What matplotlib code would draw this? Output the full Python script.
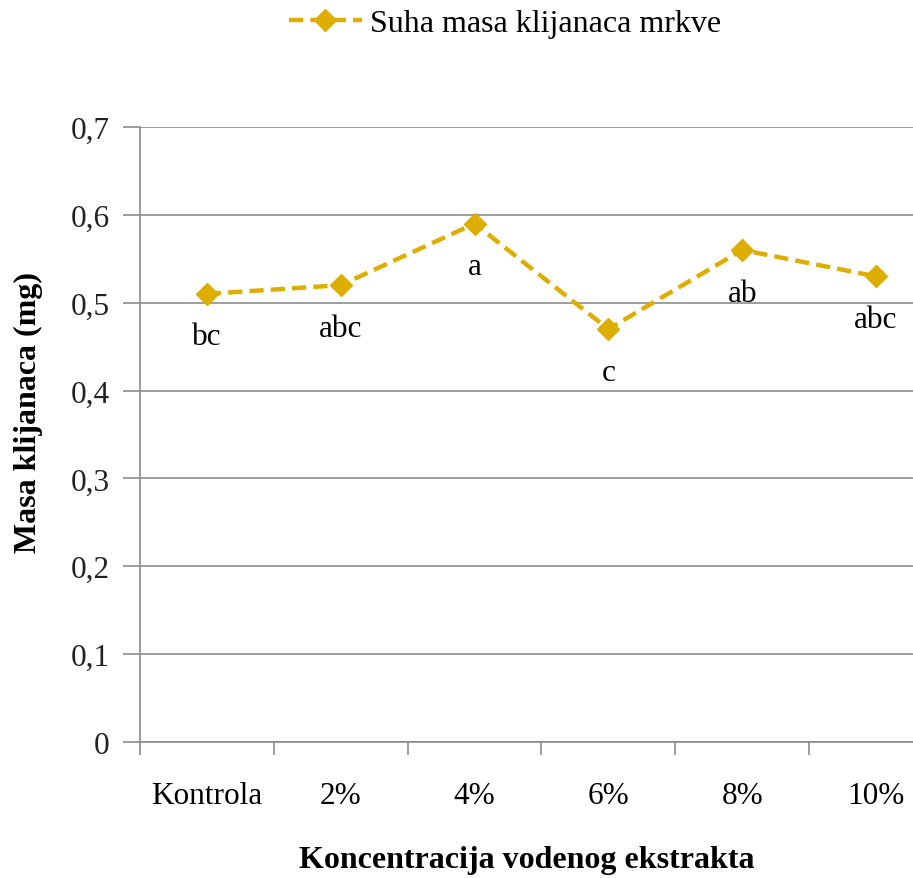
import matplotlib
matplotlib.use("Agg")
import matplotlib.pyplot as plt
import numpy as np

# Data
categories = ['Kontrola', '2%', '4%', '6%', '8%', '10%']
suha_masa = [0.51, 0.52, 0.59, 0.47, 0.56, 0.53]
oznake = ['bc', 'abc', 'a', 'c', 'ab', 'abc']
y_ticks = [0.0, 0.1, 0.2, 0.3, 0.4, 0.5, 0.6, 0.7]
y_tick_labels = ['0', '0,1', '0,2', '0,3', '0,4', '0,5', '0,6', '0,7']

plt.rcParams['font.family'] = 'Liberation Serif'
gold = '#DDAE00'
grid_grey = '#8C8C8C'

fig = plt.figure(figsize=(9.13, 8.79), dpi=100)
ax = fig.add_axes([0.1533, 0.1547, 0.8795, 0.6997])

x = np.arange(len(categories))
line, = ax.plot(x, suha_masa, color=gold, linestyle=(0, (3.2, 1.6)), linewidth=3.2,
                marker='D', markersize=11, markeredgecolor=gold,
                label='Suha masa klijanaca mrkve', zorder=3)

# letters under each point
for xi, yi, txt in zip(x, suha_masa, oznake):
    ax.annotate(txt, (xi, yi), xytext=(0, -31), textcoords='offset points',
                ha='center', va='center', fontsize=22.5)

ax.set_xlim(-0.5, len(categories) - 0.5)
ax.set_ylim(0, 0.7)
ax.set_yticks(y_ticks)
ax.set_yticklabels(y_tick_labels, fontsize=22.5, color='#222222')
ax.set_xticks(x)
ax.set_xticklabels(categories, fontsize=22.5)
ax.set_xticks(np.arange(len(categories) + 1) - 0.5, minor=True)
ax.tick_params(axis='x', which='major', length=0, pad=28)
ax.tick_params(axis='x', which='minor', length=9, width=1.2, color=grid_grey, direction='out')
ax.tick_params(axis='y', length=12, width=1.2, color=grid_grey, direction='out', pad=10)

ax.yaxis.grid(True, color=grid_grey, linewidth=1.2)
ax.set_axisbelow(True)
for side in ['top', 'right']:
    ax.spines[side].set_visible(False)
ax.spines['left'].set_color(grid_grey)
ax.spines['bottom'].set_color(grid_grey)
ax.spines['left'].set_linewidth(1.2)
ax.spines['bottom'].set_linewidth(1.2)

# axis titles placed in figure coordinates
fig.text(527 / 913, 0.021, 'Koncentracija vodenog ekstrakta', fontsize=23,
         fontweight='bold', ha='center', va='center')
fig.text(28 / 913, 0.531, 'Masa klijanaca (mg)', fontsize=23, fontweight='bold',
         rotation=90, ha='center', va='center')

fig.legend(handles=[line], loc='center', bbox_to_anchor=(0.553, 0.972), frameon=False,
           fontsize=23, handlelength=2.3, handletextpad=0.25)

fig.savefig('out.png', dpi=100)
